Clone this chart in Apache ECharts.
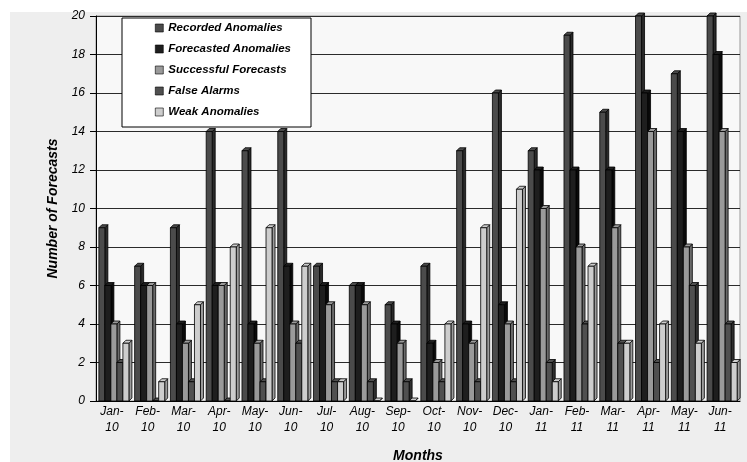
<!DOCTYPE html>
<html>
<head>
<meta charset="utf-8">
<script src="https://cdn.jsdelivr.net/npm/echarts@6/dist/echarts.min.js"></script>
<style>
  html, body { margin: 0; padding: 0; background: #ffffff; }
  #chart { width: 747px; height: 462px; }
</style>
</head>
<body>
<div id="chart"></div>
<script>
// Monthly anomaly forecast counts, Jan 2010 - Jun 2011
const months = ['Jan-10', 'Feb-10', 'Mar-10', 'Apr-10', 'May-10', 'Jun-10', 'Jul-10', 'Aug-10', 'Sep-10',
  'Oct-10', 'Nov-10', 'Dec-10', 'Jan-11', 'Feb-11', 'Mar-11', 'Apr-11', 'May-11', 'Jun-11'];
const recordedAnomalies   = [9, 7, 9, 14, 13, 14, 7, 6, 5, 7, 13, 16, 13, 19, 15, 20, 17, 20];
const forecastedAnomalies = [6, 6, 4, 6, 4, 7, 6, 6, 4, 3, 4, 5, 12, 12, 12, 16, 14, 18];
const successfulForecasts = [4, 6, 3, 6, 3, 4, 5, 5, 3, 2, 3, 4, 10, 8, 9, 14, 8, 14];
const falseAlarms         = [2, 0, 1, 0, 1, 3, 1, 1, 1, 1, 1, 1, 2, 4, 3, 2, 6, 4];
const weakAnomalies       = [3, 1, 5, 8, 9, 7, 1, 0, 0, 4, 9, 11, 1, 7, 3, 4, 3, 2];
const yTicks = { min: 0, max: 20, step: 2 };

const seriesDefs = [
  { name: 'Recorded Anomalies', data: recordedAnomalies, color: '#4b4b4b', side: '#2a2a2a' },
  { name: 'Forecasted Anomalies', data: forecastedAnomalies, color: '#1e1e1e', side: '#0a0a0a' },
  { name: 'Successful Forecasts', data: successfulForecasts, color: '#9a9a9a', side: '#6a6a6a' },
  { name: 'False Alarms', data: falseAlarms, color: '#505050', side: '#2e2e2e' },
  { name: 'Weak Anomalies', data: weakAnomalies, color: '#cdcdcd', side: '#9c9c9c' }
];

const GROUP_RATIO = 0.84;
const DEPTH = 3;

// Draws one pseudo-3D bar: front face, right side and top cap
function makeRenderer(idx, def) {
  return function (params, api) {
    const cat = api.value(0);
    const val = api.value(1);
    const base = api.coord([cat, 0]);
    const top = api.coord([cat, val]);
    const catW = api.size([1, 0])[0];
    const groupW = catW * GROUP_RATIO;
    const slot = groupW / seriesDefs.length;
    const x0 = base[0] - groupW / 2 + idx * slot;
    const w = slot;
    const y0 = top[1];
    const y1 = base[1];
    const d = DEPTH;
    const line = { stroke: '#000', lineWidth: 0.8 };
    return {
      type: 'group',
      children: [
        {
          type: 'polygon',
          shape: { points: [[x0 + w, y1], [x0 + w, y0], [x0 + w + d, y0 - d], [x0 + w + d, y1 - d]] },
          style: Object.assign({ fill: def.side }, line)
        },
        {
          type: 'polygon',
          shape: { points: [[x0, y0], [x0 + d, y0 - d], [x0 + w + d, y0 - d], [x0 + w, y0]] },
          style: Object.assign({ fill: def.color }, line)
        },
        {
          type: 'rect',
          shape: { x: x0, y: y0, width: w, height: Math.max(y1 - y0, 0) },
          style: Object.assign({ fill: def.color }, line)
        }
      ]
    };
  };
}

const chart = echarts.init(document.getElementById('chart'), null, { renderer: 'canvas' });

const italic = { fontFamily: 'Liberation Sans, Arial, sans-serif', fontStyle: 'italic', color: '#000' };

chart.setOption({
  animation: false,
  backgroundColor: '#ffffff',
  graphic: [
    { type: 'rect', z: -10, shape: { x: 10, y: 12, width: 737, height: 450 }, style: { fill: '#eeeeee' } }
  ],
  grid: {
    left: 96, right: 7, top: 16, bottom: 61,
    containLabel: false,
    outerBoundsMode: 'none',
    show: true, backgroundColor: '#f8f8f8', borderColor: '#999999', borderWidth: 1
  },
  legend: {
    orient: 'vertical',
    left: 122, top: 18,
    backgroundColor: '#ffffff',
    borderColor: '#000000', borderWidth: 1,
    padding: [3, 20, 8, 33],
    itemGap: 7,
    itemWidth: 8, itemHeight: 8,
    textStyle: Object.assign({}, italic, { fontWeight: 'bold', fontSize: 11.5, lineHeight: 14 }),
    data: seriesDefs.map(s => ({ name: s.name, icon: 'rect', itemStyle: { color: s.color, borderColor: '#000', borderWidth: 0.6 } }))
  },
  xAxis: {
    type: 'category',
    data: months,
    name: 'Months',
    nameLocation: 'middle',
    nameGap: 48,
    nameTextStyle: Object.assign({}, italic, { fontWeight: 'bold', fontSize: 14 }),
    axisLine: { lineStyle: { color: '#000', width: 1 } },
    axisTick: { show: false },
    axisLabel: Object.assign({}, italic, {
      fontSize: 12, lineHeight: 16, margin: 3, interval: 0,
      padding: [0, 4, 0, 0],
      formatter: v => v.replace('-', '-\n')
    })
  },
  yAxis: {
    type: 'value',
    min: yTicks.min, max: yTicks.max, interval: yTicks.step,
    name: 'Number of Forecasts',
    nameLocation: 'middle',
    nameGap: 36,
    nameTextStyle: Object.assign({}, italic, { fontWeight: 'bold', fontSize: 14 }),
    axisLine: { show: true, lineStyle: { color: '#000', width: 1 } },
    axisTick: { show: true, length: 6, lineStyle: { color: '#000' } },
    axisLabel: Object.assign({}, italic, { fontSize: 12, margin: 11 }),
    splitLine: { lineStyle: { color: '#2b2b2b', width: 1 } }
  },
  series: seriesDefs.map((s, i) => ({
    name: s.name,
    type: 'custom',
    renderItem: makeRenderer(i, s),
    itemStyle: { color: s.color },
    encode: { x: 0, y: 1 },
    data: s.data.map((v, k) => [k, v]),
    z: 2 + i
  }))
});
</script>
</body>
</html>
